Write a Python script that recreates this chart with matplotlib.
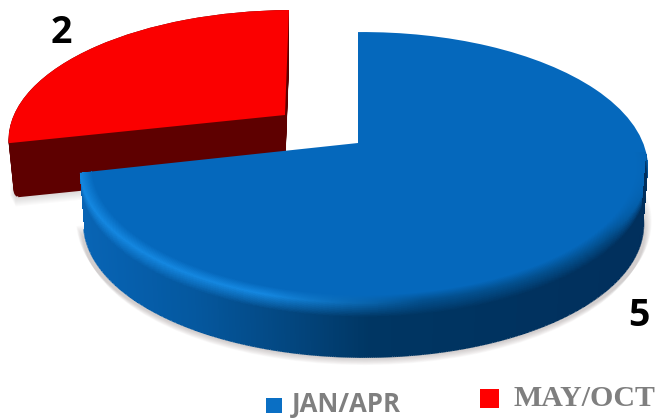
import matplotlib
matplotlib.use('Agg')
import matplotlib.pyplot as plt
import numpy as np
from matplotlib.collections import LineCollection
from matplotlib.colors import to_rgb
from matplotlib.patches import Rectangle, Wedge
from matplotlib.transforms import Affine2D, Transform

labels = ['JAN/APR', 'MAY/OCT']
values = [5, 2]
colors = ['#0568bc', '#fb0000']

SIDE_BLUE_X = [80, 130, 200, 300, 370, 650]
SIDE_BLUE = ['#0a66b6', '#0660ae', '#05589f', '#03457d', '#003663', '#012f5c']
DEPTH = 57


class Tilt(Transform):
    """Lays the unit circle of a pie down on a table, seen in perspective"""
    input_dims = 2
    output_dims = 2

    def __init__(self, x0, y0, sx, sy, skew=0.0):
        super().__init__()
        self.x0, self.y0, self.sx, self.sy, self.skew = x0, y0, sx, sy, skew

    def transform_non_affine(self, values):
        values = np.asarray(values, dtype=float)
        u, v = values[:, 0], values[:, 1]
        w = 1 + 0.181 * v - 0.02 * u
        return np.column_stack((self.x0 + (self.sx * u + self.skew * v) / w,
                                self.y0 - self.sy * v / w))


def hex_array(names):
    return np.array([to_rgb(n) for n in names])


fig = plt.figure(figsize=(6.58, 4.18), dpi=100)
ax = fig.add_axes([0, 0, 1, 1])
wedges, _ = ax.pie(values, colors=colors, startangle=90, counterclock=False, radius=1)
ax.set_aspect('auto')
ax.set_xlim(0, 658)
ax.set_ylim(418, 0)
ax.axis('off')

blue, red = wedges
tilt_blue = Tilt(358, 143, 279.4, 131)
tilt_red = Tilt(285, 115, 276.5, 124, skew=4.7)

blue.set_transform(tilt_blue + ax.transData)
blue.set_zorder(5)
blue.set_linewidth(0)
red.set_transform(tilt_red + ax.transData)
red.set_zorder(4)
red.set_linewidth(0)


def stacked(theta1, theta2, tilt, offsets, shrink, color, alpha, zorder):
    # copies of a slice pushed down the page, for the thickness and the shadow
    for dz, r in zip(offsets, shrink):
        piece = Wedge((0, 0), r, theta1, theta2, facecolor=color, alpha=alpha,
                      linewidth=0, zorder=zorder)
        piece.set_transform(tilt + Affine2D().translate(0, dz) + ax.transData)
        ax.add_patch(piece)


# soft shadow under both slices
shadow_dz = np.arange(DEPTH - 4, DEPTH + 8)
stacked(blue.theta1, blue.theta2, tilt_blue, shadow_dz, np.linspace(1.012, 0.99, 12),
        '#8a7f7f', 0.035, 1)
stacked(red.theta1, red.theta2, tilt_red, shadow_dz, np.linspace(0.995, 0.975, 12),
        '#8a7f7f', 0.03, 1)

# red slice thickness, the last layers pull in to round the lower corner
red_dz = np.arange(0, DEPTH - 1)
red_r = np.linspace(1.0, 0.98, len(red_dz))
corner = np.linspace(0, 1, 7)
red_r[-7:] -= 0.014 * (1 - np.sqrt(1 - corner ** 2))
stacked(red.theta1, red.theta2, tilt_red, red_dz, red_r, '#5e0000', 1.0, 3)

# blue rim: bevel then side wall, shaded along the arc
theta = np.radians(np.linspace(blue.theta1, -4, 500))
q = np.linspace(0, 3, 130)
rr = np.interp(q, [0, 1, 1.3, 3], [0.958, 1.0, 0.998, 0.985])
dz = np.interp(q, [0, 1, 1.3, 3], [0, 0, 9, DEPTH])
tt, rg = np.meshgrid(theta, rr)
pts = tilt_blue.transform_non_affine(
    np.column_stack((rg.ravel() * np.cos(tt.ravel()), rg.ravel() * np.sin(tt.ravel()))))
X = pts[:, 0].reshape(tt.shape)
Y = pts[:, 1].reshape(tt.shape) + dz[:, None]

col_x = 0.5 * (X[0, :-1] + X[0, 1:])
side = np.column_stack([np.interp(col_x, SIDE_BLUE_X, hex_array(SIDE_BLUE)[:, i]) for i in range(3)])
top = np.array(to_rgb(colors[0]))
glow = np.array(to_rgb('#1487e0'))
shade = np.array(to_rgb('#03508f'))
amount = np.clip((420 - col_x) / 150, 0, 1)[:, None]
edge = amount * glow + (1 - amount) * shade
# towards the far right the bevel melts into the top face
fade = np.clip((640 - col_x) / 40, 0, 1)[:, None]
edge = fade * edge + (1 - fade) * top

q_mid = 0.5 * (q[:-1] + q[1:])
C = np.zeros((len(q_mid), len(col_x), 3))
for j in range(len(col_x)):
    for i in range(3):
        C[:, j, i] = np.interp(q_mid, [0, 1, 1.5, 3], [top[i], edge[j, i], side[j, i], side[j, i]])
ax.pcolormesh(X, Y, C, shading='flat', antialiased=False, zorder=6)

# smooth outline for the lower edge of the wall
low = np.column_stack((X[-1], Y[-1]))
segs = np.stack((low[:-1], low[1:]), axis=1)
ax.add_collection(LineCollection(segs, colors=side, linewidths=1.2, zorder=6))

# value labels
ax.text(61, 33, str(values[1]), family='Open Sans', fontweight='bold', fontsize=27,
        color='black', ha='center', va='center')
ax.text(639, 316, str(values[0]), family='Open Sans', fontweight='bold', fontsize=27,
        color='black', ha='center', va='center')

# legend entries use different fonts, so they are placed one by one
ax.add_patch(Rectangle((266, 398), 16, 15, facecolor='#0a6fc4', linewidth=0))
ax.text(292, 404, labels[0], family='Open Sans', fontweight='bold', fontsize=18.5,
        color='#7f7f7f', ha='left', va='center')
ax.add_patch(Rectangle((480, 389), 19, 19, facecolor='#ff0000', linewidth=0))
ax.text(513, 398, labels[1], family='Liberation Serif', fontweight='bold', fontsize=21.5,
        color='#7f7f7f', ha='left', va='center')

fig.savefig('out.png', dpi=100)
plt.close(fig)
